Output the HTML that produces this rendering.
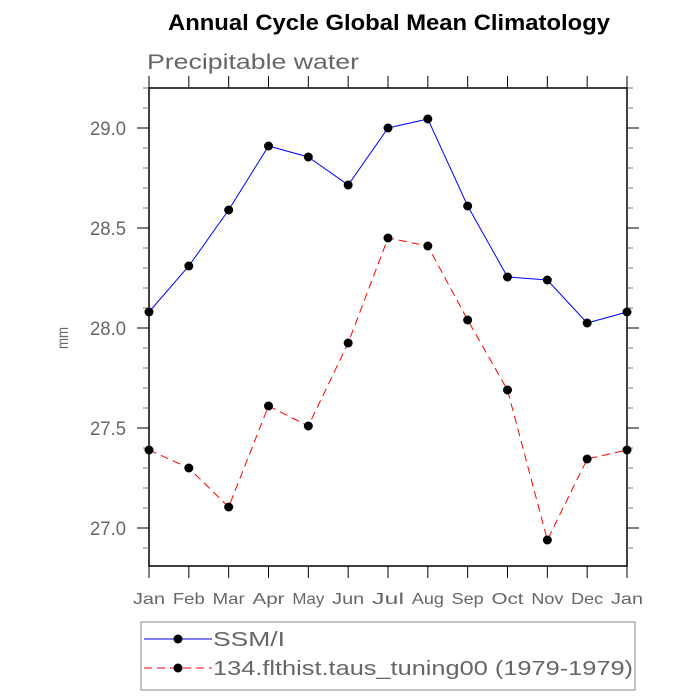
<!DOCTYPE html>
<html><head><meta charset="utf-8"><style>
body{margin:0;background:#fff;}
svg{display:block;font-family:"Liberation Sans",sans-serif;}
</style></head><body>
<svg id="chart" width="700" height="700" viewBox="0 0 700 700">
<text x="168" y="30" font-size="22" font-weight="bold" fill="#000" textLength="442" lengthAdjust="spacingAndGlyphs">Annual Cycle Global Mean Climatology</text>
<text x="147" y="69" font-size="21" fill="#666" textLength="212" lengthAdjust="spacingAndGlyphs">Precipitable water</text>
<text x="0" y="0" transform="translate(68,338) rotate(-90)" text-anchor="middle" font-size="16" fill="#666" textLength="22" lengthAdjust="spacingAndGlyphs">mm</text>
<g id="axes"></g>
<g id="series"></g>
<g>
<rect x="141" y="622" width="494" height="68" fill="#fff" stroke="#888" stroke-width="1"/>
<g>
<line x1="144" y1="639" x2="212" y2="639" stroke="#0000ff" stroke-width="1"/>
<circle cx="178" cy="639" r="4.5" fill="#000"/>
<text x="213" y="646" font-size="20" fill="#666" textLength="72" lengthAdjust="spacingAndGlyphs">SSM/I</text></g>
<g>
<line x1="144" y1="668" x2="212" y2="668" stroke="#ff0000" stroke-width="1" stroke-dasharray="8,5"/>
<circle cx="178" cy="668" r="4.5" fill="#000"/>
<text x="213" y="675" font-size="20" fill="#666" textLength="420" lengthAdjust="spacingAndGlyphs">134.flthist.taus_tuning00 (1979-1979)</text></g>
</g>
</svg>
<script>
const months=["Jan","Feb","Mar","Apr","May","Jun","Jul","Aug","Sep","Oct","Nov","Dec","Jan"];
const ssmi=[28.08,28.31,28.59,28.91,28.855,28.715,29.00,29.045,28.61,28.255,28.24,28.025,28.08];
const model=[27.39,27.30,27.105,27.61,27.51,27.925,28.45,28.41,28.04,27.69,26.94,27.345,27.39];
const yTicks=[27.0,27.5,28.0,28.5,29.0];
const yTickLabels=["27.0","27.5","28.0","28.5","29.0"];
const L=149,R=627,T=88,B=566,yMin=26.81,yMax=29.2;
const NS="http://www.w3.org/2000/svg";
function X(i){return L+(R-L)*i/(months.length-1);}
function Y(v){return B-(v-yMin)/(yMax-yMin)*(B-T);}
function mk(tag,attrs,parent){const e=document.createElementNS(NS,tag);for(const k in attrs)e.setAttribute(k,attrs[k]);parent.appendChild(e);return e;}
const ax=document.getElementById('axes');
const frame=mk('rect',{x:L,y:T,width:R-L,height:B-T,fill:'none',stroke:'#000','stroke-width':1.5},ax);


for(let v=Math.ceil(yMin*10)/10;v<=yMax+1e-9;v+=0.1){
  const y=Y(v);const major=yTicks.some(t=>Math.abs(t-v)<1e-6);const len=major?12:6;
  mk('line',{x1:L-len,y1:y,x2:L,y2:y,stroke:major?'#000':'#777','stroke-width':1},ax);
  mk('line',{x1:R,y1:y,x2:R+len,y2:y,stroke:major?'#000':'#777','stroke-width':1},ax);
}
yTicks.forEach((t,i)=>{
  const tx=mk('text',{x:90,y:Y(t)+7,'font-size':19,fill:'#666',textLength:36,lengthAdjust:'spacingAndGlyphs'},ax);
  tx.textContent=yTickLabels[i];
  
  
});
months.forEach((m,i)=>{
  const x=X(i);
  mk('line',{x1:x,y1:B,x2:x,y2:B+12,stroke:'#000','stroke-width':1},ax);
  mk('line',{x1:x,y1:T-12,x2:x,y2:T,stroke:'#000','stroke-width':1},ax);
  const tx=mk('text',{x:x-16,y:604,'font-size':16,fill:'#666',textLength:32,lengthAdjust:'spacingAndGlyphs'},ax);
  tx.textContent=m;
  
  
});
const sg=document.getElementById('series');
function draw(vals,color,dash,name){
  const p=mk('polyline',{points:vals.map((v,i)=>X(i)+','+Y(v)).join(' '),fill:'none',stroke:color,'stroke-width':1,'stroke-dasharray':dash},sg);
  
  
  vals.forEach((v,i)=>{
    const c=mk('circle',{cx:X(i),cy:Y(v),r:4.5,fill:'#000'},sg);
    
    
  });
}
draw(ssmi,'#0000ff','none','ssmi');
draw(model,'#ff0000','8,5','model');
</script>
</body></html>
